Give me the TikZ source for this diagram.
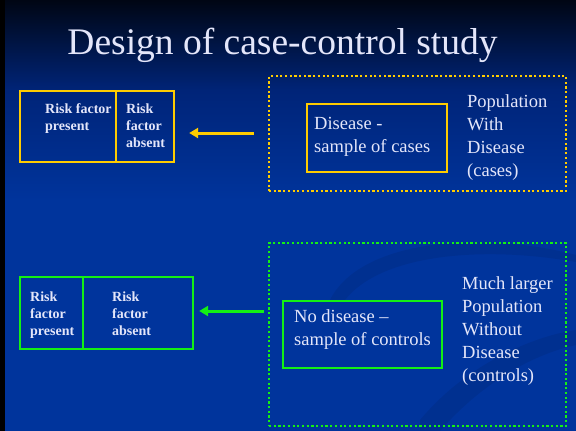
\documentclass[tikz,border=0pt]{standalone}
\usepackage{fontspec}
\setmainfont{Liberation Serif}
\usetikzlibrary{arrows.meta}
\definecolor{ylw}{RGB}{255,204,0}
\definecolor{grn}{RGB}{20,240,20}
\definecolor{txt}{RGB}{228,230,250}
\definecolor{bgtop}{RGB}{0,6,20}
\definecolor{bgmid}{RGB}{0,36,120}
\definecolor{bgbot}{RGB}{0,52,156}
\tikzset{
  cell/.style={draw, line width=2.3pt, minimum width=#1, inner sep=0pt},
  smalltxt/.style={anchor=north west, inner sep=0pt, align=left, text=txt,
     font=\fontsize{14}{17.3}\selectfont\bfseries},
  bigtxt/.style={anchor=north west, inner sep=0pt, align=left, text=txt,
     font=\fontsize{18.5}{23}\selectfont},
  dotbox/.style={draw, line width=2.2pt, dash pattern=on 2.2pt off 2.5pt, inner sep=0pt},
  arr/.style={line width=3pt, -{Triangle[length=9pt,width=10pt]}},
}
\begin{document}
\begin{tikzpicture}[x=1pt,y=-1pt]
\useasboundingbox (0,0) rectangle (576,431);
% background
\fill[black] (0,0) rectangle (576,431);
\shade[top color=bgtop, bottom color=bgmid] (5,0) rectangle (576,90.5);
\shade[top color=bgmid, bottom color=bgbot] (5,90) rectangle (576,200.5);
\fill[bgbot] (5,200) rectangle (576,431);
% faint swooshes
\begin{scope}[opacity=0.07]
\fill[black] (330,300) .. controls (360,240) and (480,230) .. (576,255)
  -- (576,262) .. controls (480,245) and (380,255) .. (345,300) -- cycle;
\fill[black] (420,420) .. controls (470,360) and (540,335) .. (576,330)
  -- (576,345) .. controls (530,355) and (480,385) .. (440,431) -- (420,431) -- cycle;
\end{scope}
% title
\node[anchor=base, text=txt, font=\fontsize{37.5}{40}\selectfont] (title) at (282.5,54.5) {Design of case-control study};
% top row (cases)
\node[cell=96pt, minimum height=71pt, draw=ylw] (a1) at (68,126.5) {};
\node[cell=58pt, minimum height=71pt, draw=ylw] (a2) at (145,126.5) {};
\node[smalltxt] (a1t) at (45,103.4) {Risk factor\\present};
\node[smalltxt] (a2t) at (126,103.4) {Risk\\factor\\absent};
\node[dotbox, draw=ylw, minimum width=297pt, minimum height=115pt] (popA) at (417.5,133.5) {};
\node[cell=140pt, minimum height=68pt, draw=ylw] (sampA) at (377,138) {};
\node[bigtxt] (sampAt) at (314,117.5) {Disease -\\sample of cases};
\node[bigtxt] (popAt) at (467,94.6) {Population\\With\\Disease\\(cases)};
\coordinate (ya) at (0,133);
\draw[arr, draw=ylw, fill=ylw, shorten <=14pt, shorten >=14pt] (popA.west |- ya) -- (a2.east |- ya);
% bottom row (controls)
\node[cell=63pt, minimum height=72pt, draw=grn] (b1) at (51.5,313) {};
\node[cell=110pt, minimum height=72pt, draw=grn] (b2) at (138,313) {};
\node[smalltxt] (b1t) at (30,291.4) {Risk\\factor\\present};
\node[smalltxt] (b2t) at (112,291.4) {Risk\\factor\\absent};
\node[dotbox, draw=grn, minimum width=297pt, minimum height=183pt] (popB) at (417.5,334.5) {};
\node[cell=159pt, minimum height=67pt, draw=grn] (sampB) at (362.5,334.5) {};
\node[bigtxt] (sampBt) at (294,309.6) {No disease --\\sample of controls};
\node[bigtxt] (popBt) at (462,276.6) {Much larger\\Population\\Without\\Disease\\(controls)};
\coordinate (ga) at (0,311);
\draw[arr, draw=grn, fill=grn, shorten <=4pt, shorten >=5pt] (popB.west |- ga) -- (b2.east |- ga);
\end{tikzpicture}
\end{document}
